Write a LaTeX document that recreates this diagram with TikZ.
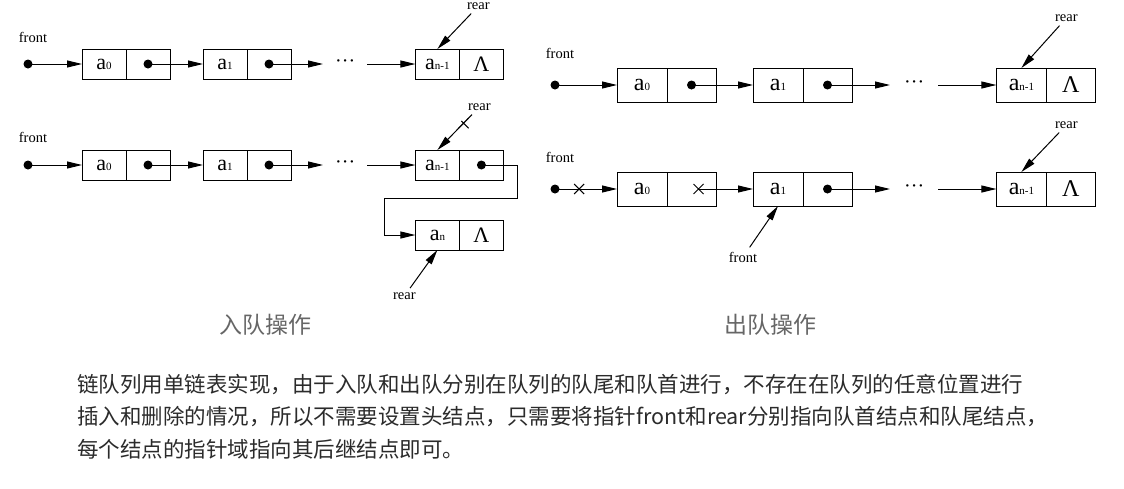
\documentclass[tikz,border=0pt]{standalone}
\usepackage{fontspec}
\setmainfont{Liberation Serif}
\newfontfamily\cjk{Noto Sans CJK SC}
\usetikzlibrary{positioning,arrows.meta,calc,shapes.misc}
\definecolor{cInk}{HTML}{000000}
\definecolor{cText}{HTML}{2B2B2B}
\definecolor{cCap}{HTML}{666666}
\newcommand{\elem}[1]{a{\fontsize{11}{11}\selectfont #1}}
\tikzset{
  cell/.style={draw=cInk, line width=1pt, minimum width=44pt, minimum height=30pt,
               inner sep=0pt, outer sep=0pt, font=\fontsize{22}{22}\selectfont},
  cellR/.style={cell, minimum width=50pt, minimum height=34pt, font=\fontsize{24}{24}\selectfont},
  ptrR/.style={cellR, minimum width=49pt},
  ar/.style={-{Triangle[length=15pt,width=7pt]}, line width=1pt, cInk},
  dot/.style={circle, fill=cInk, inner sep=0pt, minimum size=9pt},
  lbl/.style={font=\fontsize{14.5}{14.5}\selectfont, inner sep=1pt},
  xmark/.style={cross out, draw=cInk, line width=1pt, minimum size=9pt, inner sep=0pt},
  gap/.style={minimum width=44pt, inner sep=0pt, font=\fontsize{20}{20}\selectfont},
  capt/.style={font=\cjk\fontsize{23}{23}\selectfont, text=cCap},
  para/.style={font=\cjk\fontsize{21.5}{32.5}\selectfont, text=cText, align=left,
               anchor=north west, inner sep=0pt}
}

\begin{document}
\begin{tikzpicture}[x=1pt, y=-1pt]
\useasboundingbox (0,0) rectangle (1124,488);
% enqueue, before
\node[lbl] (fa) at (33,37) {front};
\node[dot] (sa) at (28,64) {};
\node[cell] (v0a) at (104,64) {\elem{0}};
\node[cell, right=0pt of v0a] (p0a) {};
\node[cell, right=33pt of p0a] (v1a) {\elem{1}};
\node[cell, right=0pt of v1a] (p1a) {};
\node[gap, right=32pt of p1a] (ga) {···};
\node[cell, right=48pt of ga] (vna) {\elem{n-1}};
\node[cell, right=0pt of vna] (pna) {Λ};
\node[dot] (d0a) at (p0a) {};
\node[dot] (d1a) at (p1a) {};
\node[lbl] (ra) at ($(vna.north)+(41,-43)$) {rear};
\draw[ar](sa.center)--(v0a.west);\draw[ar](d0a.center)--(v1a.west);\draw[ar](d1a.center)--(ga.west);
\draw[ar](ga.east)--(vna.west);\draw[ar, shorten <=4pt](ra)--(vna.north);
% enqueue, after
\node[lbl] (fb) at (33,137) {front};
\node[dot] (sb) at (28,165) {};
\node[cell] (v0b) at (104,165) {\elem{0}};
\node[cell, right=0pt of v0b] (p0b) {};
\node[cell, right=33pt of p0b] (v1b) {\elem{1}};
\node[cell, right=0pt of v1b] (p1b) {};
\node[gap, right=32pt of p1b] (gb) {···};
\node[cell, right=48pt of gb] (vnb) {\elem{n-1}};
\node[cell, right=0pt of vnb] (pnb) {};
\node[cell, below=40pt of vnb] (vmb) {\elem{n}};
\node[cell, right=0pt of vmb] (pmb) {Λ};
\node[dot] (d0b) at (p0b) {};
\node[dot] (d1b) at (p1b) {};
\node[dot] (dnb) at (pnb) {};
\node[lbl] (rb) at ($(vnb.north)+(42,-43)$) {rear};
\node[lbl] (rc) at ($(vmb.south)+(-33,46)$) {rear};
\draw[ar](sb.center)--(v0b.west);\draw[ar](d0b.center)--(v1b.west);\draw[ar](d1b.center)--(gb.west);
\draw[ar](gb.east)--(vnb.west);
\draw[ar, shorten <=4pt](rb)-- node[xmark, pos=.3]{} (vnb.north);
\draw[ar](dnb.center) -| ++(36,33) -| ([xshift=-31pt]vmb.west) -- (vmb.west);
\draw[ar, shorten <=4pt](rc)--(vmb.south);
% dequeue, before
\node[lbl] (fc) at (560,53) {front};
\node[dot] (sc) at (555,85) {};
\node[cellR] (v0c) at (642,85) {\elem{0}};
\node[ptrR, right=0pt of v0c] (p0c) {};
\node[cellR, right=37pt of p0c] (v1c) {\elem{1}};
\node[ptrR, right=0pt of v1c] (p1c) {};
\node[gap, minimum width=48pt, right=38pt of p1c] (gc) {···};
\node[cellR, right=58pt of gc] (vnc) {\elem{n-1}};
\node[ptrR, right=0pt of vnc] (pnc) {Λ};
\node[dot] (d0c) at (p0c) {};
\node[dot] (d1c) at (p1c) {};
\node[lbl] (rd) at ($(vnc.north)+(45,-50)$) {rear};
\draw[ar](sc.center)--(v0c.west);\draw[ar](d0c.center)--(v1c.west);\draw[ar](d1c.center)--(gc.west);
\draw[ar](gc.east)--(vnc.west);\draw[ar, shorten <=4pt](rd)--(vnc.north);
% dequeue, after
\node[lbl] (fd) at (560,157) {front};
\node[dot] (sd) at (555,189) {};
\node[cellR] (v0d) at (642,189) {\elem{0}};
\node[ptrR, right=0pt of v0d] (p0d) {};
\node[cellR, right=37pt of p0d] (v1d) {\elem{1}};
\node[ptrR, right=0pt of v1d] (p1d) {};
\node[gap, minimum width=48pt, right=38pt of p1d] (gd) {···};
\node[cellR, right=58pt of gd] (vnd) {\elem{n-1}};
\node[ptrR, right=0pt of vnd] (pnd) {Λ};
\node[xmark] (x0d) at ($(p0d.center)+(7,0)$) {};
\node[dot] (d1d) at (p1d) {};
\node[lbl] (fe) at ($(v1d.south)+(-35,51)$) {front};
\node[lbl] (re) at ($(vnd.north)+(45,-47)$) {rear};
\draw[ar](sd.center)-- node[xmark, pos=.39]{} (v0d.west);\draw[ar](x0d.center)--(v1d.west);
\draw[ar](d1d.center)--(gd.west);\draw[ar](gd.east)--(vnd.west);
\draw[ar, shorten <=4pt](fe)--(v1d.south);\draw[ar, shorten <=4pt](re)--(vnd.north);
% captions and text
\node[capt] (capL) at (265,325) {入队操作};
\node[capt] (capR) at (770,325) {出队操作};
\node[para] (txt) at (77,374) {链队列用单链表实现，由于入队和出队分别在队列的队尾和队首进行，不存在在队列的任意位置进行\\
插入和删除的情况，所以不需要设置头结点，只需要将指针front和rear分别指向队首结点和队尾结点，\\
每个结点的指针域指向其后继结点即可。};
\end{tikzpicture}
\end{document}
